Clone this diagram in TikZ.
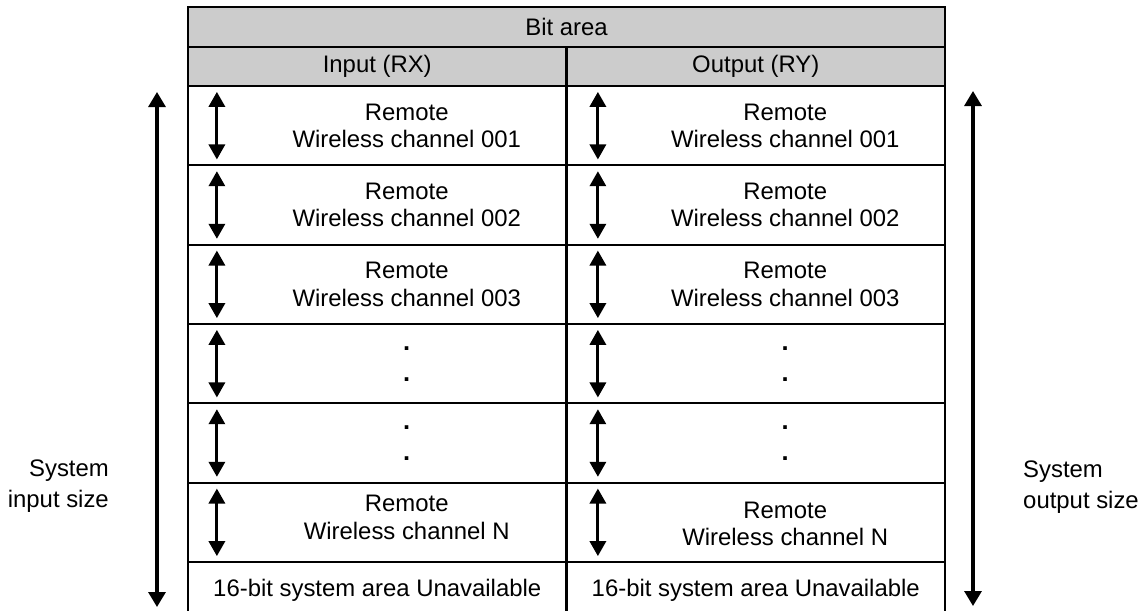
\documentclass[tikz,border=0pt]{standalone}
\usepackage{fontspec}
\setmainfont{Liberation Sans}
\usepackage{tikz}
\usepackage{xcolor}
\usetikzlibrary{arrows.meta}
\definecolor{hdrgray}{HTML}{CCCCCC}

\begin{document}
\begin{tikzpicture}[x=0.02cm, y=-0.02cm,
    every node/.style={font=\fontsize{13.6}{15.5}\selectfont},
    cell/.style={draw, line width=1.3pt, minimum width=7.57cm, minimum height=1.587cm, inner sep=0pt},
    hdr/.style={cell, fill=hdrgray, minimum height=0.78cm},
    dots/.style={align=center, font=\fontsize{14.5}{17.6}\selectfont\bfseries},
    updown/.style={{Triangle[length=0.3cm, width=0.32cm]}-{Triangle[length=0.3cm, width=0.32cm]}, line width=1.8pt},
    sizearrow/.style={{Triangle[length=0.3cm, width=0.34cm]}-{Triangle[length=0.3cm, width=0.34cm]}, line width=1.8pt}]
    \useasboundingbox (0,0) rectangle (1143,610);
    % header rows
    \node[hdr, minimum width=15.14cm, minimum height=0.8cm] (bit) at (566.5,27) {Bit area};
    \node[hdr] (hin) at (377.25,66.5) {Input (RX)};
    \node[hdr] (hout) at (755.75,66.5) {Output (RY)};
    % input column
    \node[cell] (in1) at (377.25,125.67) {};
    \node[cell] (in2) at (377.25,205) {};
    \node[cell] (in3) at (377.25,284.33) {};
    \node[cell] (in4) at (377.25,363.67) {};
    \node[cell] (in5) at (377.25,443) {};
    \node[cell] (inN) at (377.25,522.33) {};
    \node[cell, minimum height=1.12cm] (insys) at (377.25,590) {16-bit system area Unavailable};
    % output column
    \node[cell] (out1) at (755.75,125.67) {};
    \node[cell] (out2) at (755.75,205) {};
    \node[cell] (out3) at (755.75,284.33) {};
    \node[cell] (out4) at (755.75,363.67) {};
    \node[cell] (out5) at (755.75,443) {};
    \node[cell] (outN) at (755.75,522.33) {};
    \node[cell, minimum height=1.12cm] (outsys) at (755.75,590) {16-bit system area Unavailable};
    % cell texts
    \node[align=center] (tin1) at ([xshift=0.59cm]in1.center) {Remote\\Wireless channel 001};
    \node[align=center] (tin2) at ([xshift=0.59cm]in2.center) {Remote\\Wireless channel 002};
    \node[align=center] (tin3) at ([xshift=0.59cm]in3.center) {Remote\\Wireless channel 003};
    \node[dots] (tin4) at ([xshift=0.59cm]in4.center) {.\\.};
    \node[dots] (tin5) at ([xshift=0.59cm]in5.center) {.\\.};
    \node[align=center] (tinN) at ([xshift=0.59cm, yshift=0.1cm]inN.center) {Remote\\Wireless channel N};
    \node[align=center] (tout1) at ([xshift=0.59cm]out1.center) {Remote\\Wireless channel 001};
    \node[align=center] (tout2) at ([xshift=0.59cm]out2.center) {Remote\\Wireless channel 002};
    \node[align=center] (tout3) at ([xshift=0.59cm]out3.center) {Remote\\Wireless channel 003};
    \node[dots] (tout4) at ([xshift=0.59cm]out4.center) {.\\.};
    \node[dots] (tout5) at ([xshift=0.59cm]out5.center) {.\\.};
    \node[align=center] (toutN) at ([xshift=0.59cm, yshift=-0.03cm]outN.center) {Remote\\Wireless channel N};
    % row arrows
    \draw[updown] ([shift={(0.6cm,-0.14cm)}]in1.north west) -- ([shift={(0.6cm,0.14cm)}]in1.south west);
    \draw[updown] ([shift={(0.6cm,-0.14cm)}]in2.north west) -- ([shift={(0.6cm,0.14cm)}]in2.south west);
    \draw[updown] ([shift={(0.6cm,-0.14cm)}]in3.north west) -- ([shift={(0.6cm,0.14cm)}]in3.south west);
    \draw[updown] ([shift={(0.6cm,-0.14cm)}]in4.north west) -- ([shift={(0.6cm,0.14cm)}]in4.south west);
    \draw[updown] ([shift={(0.6cm,-0.14cm)}]in5.north west) -- ([shift={(0.6cm,0.14cm)}]in5.south west);
    \draw[updown] ([shift={(0.6cm,-0.14cm)}]inN.north west) -- ([shift={(0.6cm,0.14cm)}]inN.south west);
    \draw[updown] ([shift={(0.65cm,-0.14cm)}]out1.north west) -- ([shift={(0.65cm,0.14cm)}]out1.south west);
    \draw[updown] ([shift={(0.65cm,-0.14cm)}]out2.north west) -- ([shift={(0.65cm,0.14cm)}]out2.south west);
    \draw[updown] ([shift={(0.65cm,-0.14cm)}]out3.north west) -- ([shift={(0.65cm,0.14cm)}]out3.south west);
    \draw[updown] ([shift={(0.65cm,-0.14cm)}]out4.north west) -- ([shift={(0.65cm,0.14cm)}]out4.south west);
    \draw[updown] ([shift={(0.65cm,-0.14cm)}]out5.north west) -- ([shift={(0.65cm,0.14cm)}]out5.south west);
    \draw[updown] ([shift={(0.65cm,-0.14cm)}]outN.north west) -- ([shift={(0.65cm,0.14cm)}]outN.south west);
    % system size arrows
    \coordinate (intop) at (157,92);
    \coordinate (inbot) at (157,607);
    \coordinate (outtop) at (973,91);
    \coordinate (outbot) at (973,606);
    \draw[sizearrow] (intop) -- (inbot);
    \draw[sizearrow] (outtop) -- (outbot);
    \node[anchor=east, align=right, font=\fontsize{13.6}{17.5}\selectfont] (insize) at (115,486) {System\\input size};
    \node[anchor=west, align=left, font=\fontsize{13.6}{17.5}\selectfont] (outsize) at (1017,487) {System\\output size};
\end{tikzpicture}
\end{document}
